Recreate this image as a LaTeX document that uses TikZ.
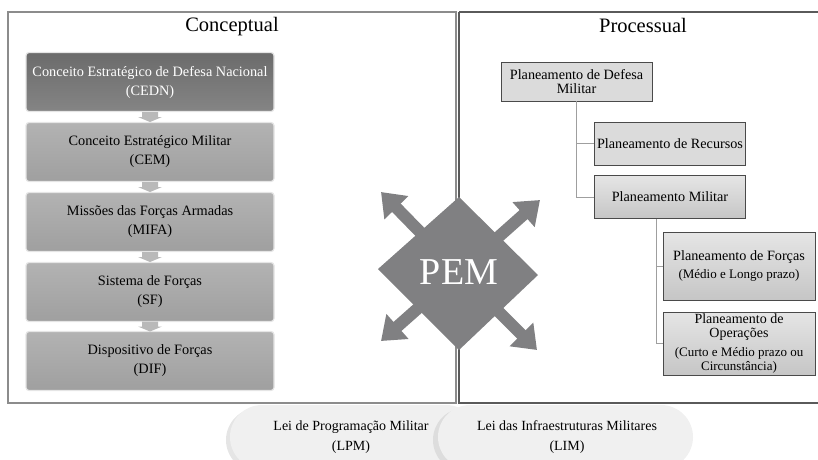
\documentclass[tikz,border=0pt]{standalone}
\usepackage{fontspec}
\setmainfont{Liberation Serif}
\usetikzlibrary{arrows.meta,calc}
\definecolor{panelL}{HTML}{8C8C8C}
\definecolor{panelR}{HTML}{5A5A5A}
\definecolor{pemgray}{HTML}{808082}
\definecolor{boxedge}{HTML}{4A4A4A}
\begin{document}
\begin{tikzpicture}[x=1pt,y=-1pt,
  concbox/.style={rounded corners=3pt, draw=white!80!gray, line width=1.2pt,
    top color=gray!60, bottom color=gray!75, minimum width=248pt, minimum height=59pt,
    align=center, font=\fontsize{14.3}{19}\selectfont, inner sep=0pt},
  darkbox/.style={concbox, top color=black!58, bottom color=black!48, text=white},
  procbox/.style={draw=boxedge, line width=0.9pt, fill=gray!28, align=center,
    font=\fontsize{14.2}{14.5}\selectfont, inner sep=0pt},
  shadebox/.style={procbox, fill=none, top color=gray!20, bottom color=gray!45},
  downarr/.style={fill=gray!55, draw=none},
  pemarrow/.style={line width=12pt, pemgray, -{Triangle[length=22pt,width=32pt]}},
  lawpill/.style={fill=gray!12, rounded corners=32pt, draw=none},
  pillshade/.style={fill=gray!45, opacity=0.45, rounded corners=32pt, draw=none},
  lawtext/.style={font=\fontsize{14}{20}\selectfont, align=center},
  link/.style={draw=gray!75, line width=1pt}
]
\useasboundingbox (0,0) rectangle (818,459);

% two frames
\draw[panelL, line width=1.6pt] (8,12) rectangle (456,403);
\draw[panelR, line width=1.6pt] (459,12) -- (459,403) -- (822,403);
\draw[panelR, line width=1.6pt] (459,12) -- (822,12);

\node[font=\fontsize{20.5}{22}\selectfont] (tc) at (232,27) {Conceptual};
\node[font=\fontsize{20.5}{22}\selectfont] (tp) at (643,25) {Processual};

% conceptual chain
\node[darkbox] (c1) at (150,82) {Conceito Estratégico de Defesa Nacional\\(CEDN)};
\node[concbox] (c2) at (150,152) {Conceito Estratégico Militar\\(CEM)};
\node[concbox] (c3) at (150,222) {Missões das Forças Armadas\\(MIFA)};
\node[concbox] (c4) at (150,292) {Sistema de Forças\\(SF)};
\node[concbox] (c5) at (150,361) {Dispositivo de Forças\\(DIF)};
\foreach \a/\b in {c1/c2,c2/c3,c3/c4,c4/c5}{
  \path ($(\a.south)!0.5!(\b.north)$) coordinate (m);
  \fill[downarr] ($(m)+(-8,-5)$) -- ($(m)+(8,-5)$) -- ($(m)+(8,0)$) -- ($(m)+(12,0)$)
     -- ($(m)+(0,5)$) -- ($(m)+(-12,0)$) -- ($(m)+(-8,0)$) -- cycle;
}

% PEM diamond with four arrows
\coordinate (pc) at (459,272);
\coordinate (tl) at (381,192);
\coordinate (tr) at (540,200);
\coordinate (bl) at (381,341);
\coordinate (br) at (537,350);
\foreach \t in {tl,tr,bl,br} \draw[pemarrow] (pc) -- (\t);
\fill[pemgray] (459,197) -- (538,275) -- (459,350) -- (378,269) -- cycle;
\node[text=white, font=\fontsize{38}{38}\selectfont] (pem) at (pc) {PEM};

% processual tree
\node[procbox, minimum width=151pt, minimum height=39pt] (p1) at (576.5,81.5)
  {Planeamento de Defesa\\Militar};
\node[procbox, minimum width=151pt, minimum height=43pt] (p2) at (670,143.5)
  {Planeamento de Recursos};
\node[shadebox, minimum width=151pt, minimum height=43pt] (p3) at (670,197)
  {Planeamento Militar};
\node[shadebox, minimum width=152pt, minimum height=68pt] (p4) at (739,266)
  {Planeamento de Forças\\[4pt]{\fontsize{13}{13}\selectfont (Médio e Longo prazo)}};
\node[shadebox, minimum width=152pt, minimum height=63pt, font=\fontsize{14}{14}\selectfont] (p5) at (739,343.5)
  {Planeamento de\\Operações\\[5pt]{\fontsize{13}{13}\selectfont (Curto e Médio prazo ou}\\{\fontsize{13}{13}\selectfont Circunstância)}};

\draw[link] (p1.south) |- (p3.west);
\draw[link] (p1.south |- p2.west) -- (p2.west);
\draw[link] (656,0 |- p3.south) |- (p5.west);
\draw[link] (656,0 |- p4.west) -- (p4.west);

% laws
\begin{scope}
\clip (0,404) rectangle (818,459);
\fill[pillshade] (226,408) rectangle (476,472);
\fill[lawpill] (230,405) rectangle (478,469);
\fill[pillshade] (433,408) rectangle (688,472);
\fill[lawpill] (438,405) rectangle (693,469);
\end{scope}
\node[lawtext] (lpm) at (351,437) {Lei de Programação Militar\\(LPM)};
\node[lawtext] (lim) at (567,437) {Lei das Infraestruturas Militares\\(LIM)};
\end{tikzpicture}
\end{document}
